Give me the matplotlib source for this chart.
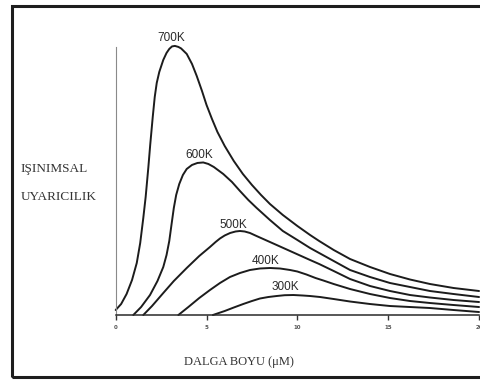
import matplotlib.pyplot as plt
from matplotlib.patches import Rectangle

# wavelength (um) / relative emittance
x700 = [0, 0.3, 0.6, 0.9, 1.16, 1.35, 1.52, 1.65, 1.8, 1.9, 2.04, 2.15, 2.26, 2.4, 2.62, 2.8, 2.95, 3.1,
        3.26, 3.45, 3.6, 3.91, 4.2, 4.46, 4.75, 5.0, 5.3, 5.6, 6.0, 6.5, 7.0, 7.5, 8.0, 8.49, 9.2, 10.0,
        10.7, 11.2, 12.0, 12.9, 14.0, 15.1, 16.2, 17.3, 18.6, 20]
y700 = [5, 11, 21, 35, 52, 72, 97, 118, 148, 170, 198, 218, 232, 243, 255, 262, 266, 268.5,
        269, 268, 266.5, 261, 251, 239, 224, 210, 196, 183, 169, 154, 141, 130, 120, 111, 100, 89,
        80, 74, 65, 56, 48, 41, 35.5, 31, 27, 24]

x600 = [0.97, 1.4, 1.89, 2.3, 2.62, 2.8, 2.95, 3.07, 3.2, 3.33, 3.5, 3.7, 3.91, 4.2, 4.5, 4.82, 5.1,
        5.4, 5.92, 6.4, 6.84, 7.3, 7.76, 8.49, 9.2, 10.0, 10.7, 11.2, 12.0, 12.9, 14.0, 15.1, 16.2,
        17.3, 18.6, 20]
y600 = [0, 8, 20, 34, 48, 60, 74, 90, 107, 120, 131, 140, 146, 150, 152, 152.5, 151,
        148, 141, 133, 124, 115, 107, 95, 84, 75, 67, 62, 54, 45, 38, 32, 28,
        24, 21, 18]

x500 = [1.52, 2.0, 2.62, 3.2, 3.91, 4.6, 5.19, 5.5, 5.74, 6.0, 6.3, 6.6, 6.84, 7.1, 7.39, 7.75, 8.12,
        8.86, 9.78, 10.7, 11.2, 12.0, 12.9, 14.0, 15.1, 16.2, 17.3, 18.6, 20]
y500 = [0, 9, 22, 34, 47, 59, 68, 73, 76.5, 79.5, 82, 83.5, 84, 83.5, 82, 79, 76,
        70, 62.5, 55, 51, 44, 36, 29, 24, 20, 17.5, 15, 13]

x400 = [3.45, 4.0, 4.6, 5.19, 5.74, 6.29, 6.84, 7.39, 7.94, 8.49, 9.05, 9.6, 10.0, 10.5, 11.0, 11.43,
        12.0, 12.9, 14.0, 15.1, 16.2, 17.3, 18.6, 20]
y400 = [0, 8, 17, 25, 32, 38, 42, 45, 46.5, 47, 46.5, 45, 43.5, 40.5, 37, 34.5,
        31, 26, 21, 17, 14, 12, 10, 8]

x300 = [5.35, 6.0, 6.5, 7.02, 7.5, 7.94, 8.4, 8.86, 9.3, 9.78, 10.3, 10.7, 11.25, 12.0, 12.9, 14.0,
        15.1, 16.2, 17.3, 18.6, 20]
y300 = [0, 4, 7.5, 11, 14, 16.5, 18, 19, 19.8, 20, 19.5, 19, 18, 16, 13.5, 11,
        9, 8, 7, 5, 3]

curves = [("700K", x700, y700, 3.04, 277),
          ("600K", x600, y600, 4.6, 160),
          ("500K", x500, y500, 6.47, 90),
          ("400K", x400, y400, 8.26, 54),
          ("300K", x300, y300, 9.32, 28)]
xticks = [0, 5, 10, 15, 20]

fig = plt.figure(figsize=(4.8, 3.83), dpi=100)
ax = fig.add_axes([0.241, 0.1775, 0.757, 0.7])

for name, xs, ys, tx, ty in curves:
    ax.plot(xs, ys, color='#1c1c1c', lw=1.4, clip_on=False,
            solid_capstyle='round', solid_joinstyle='round')
    ax.text(tx, ty, name, ha='center', va='center', fontsize=8.5,
            family='Liberation Sans', color='#2a2a2a')

ax.set_xlim(0, 20)
ax.set_ylim(0, 268)
ax.set_xticks(xticks)
ax.set_xticklabels([str(t) for t in xticks], fontsize=4, fontweight='bold', color='#555555')
ax.set_yticks([])
ax.tick_params(axis='x', direction='out', length=3.5, width=1, color='#333333', pad=4)
for s in ['top', 'right']:
    ax.spines[s].set_visible(False)
ax.spines['bottom'].set_color('#2a2a2a')
ax.spines['bottom'].set_linewidth(1.1)
ax.spines['left'].set_color('#8a8a8a')
ax.spines['left'].set_linewidth(0.8)
ax.patch.set_alpha(0)

fig.text(0.043, 0.559, "IŞINIMSAL", fontsize=9.5, family='Liberation Serif',
         color='#333333', ha='left', va='center')
fig.text(0.043, 0.486, "UYARICILIK", fontsize=9.5, family='Liberation Serif',
         color='#333333', ha='left', va='center')
fig.text(0.497, 0.056, "DALGA BOYU (μM)", fontsize=9, family='Liberation Serif',
         color='#333333', ha='center', va='center')

# scanned page frame, right edge is cut off
fig.patches.append(Rectangle((11.5 / 480, 1 - 376.5 / 383), 1.2, (376.5 - 5.5) / 383,
                             transform=fig.transFigure, fill=False, lw=2.2,
                             edgecolor='#1e1e1e', zorder=0))

fig.savefig('out.png', dpi=100)
